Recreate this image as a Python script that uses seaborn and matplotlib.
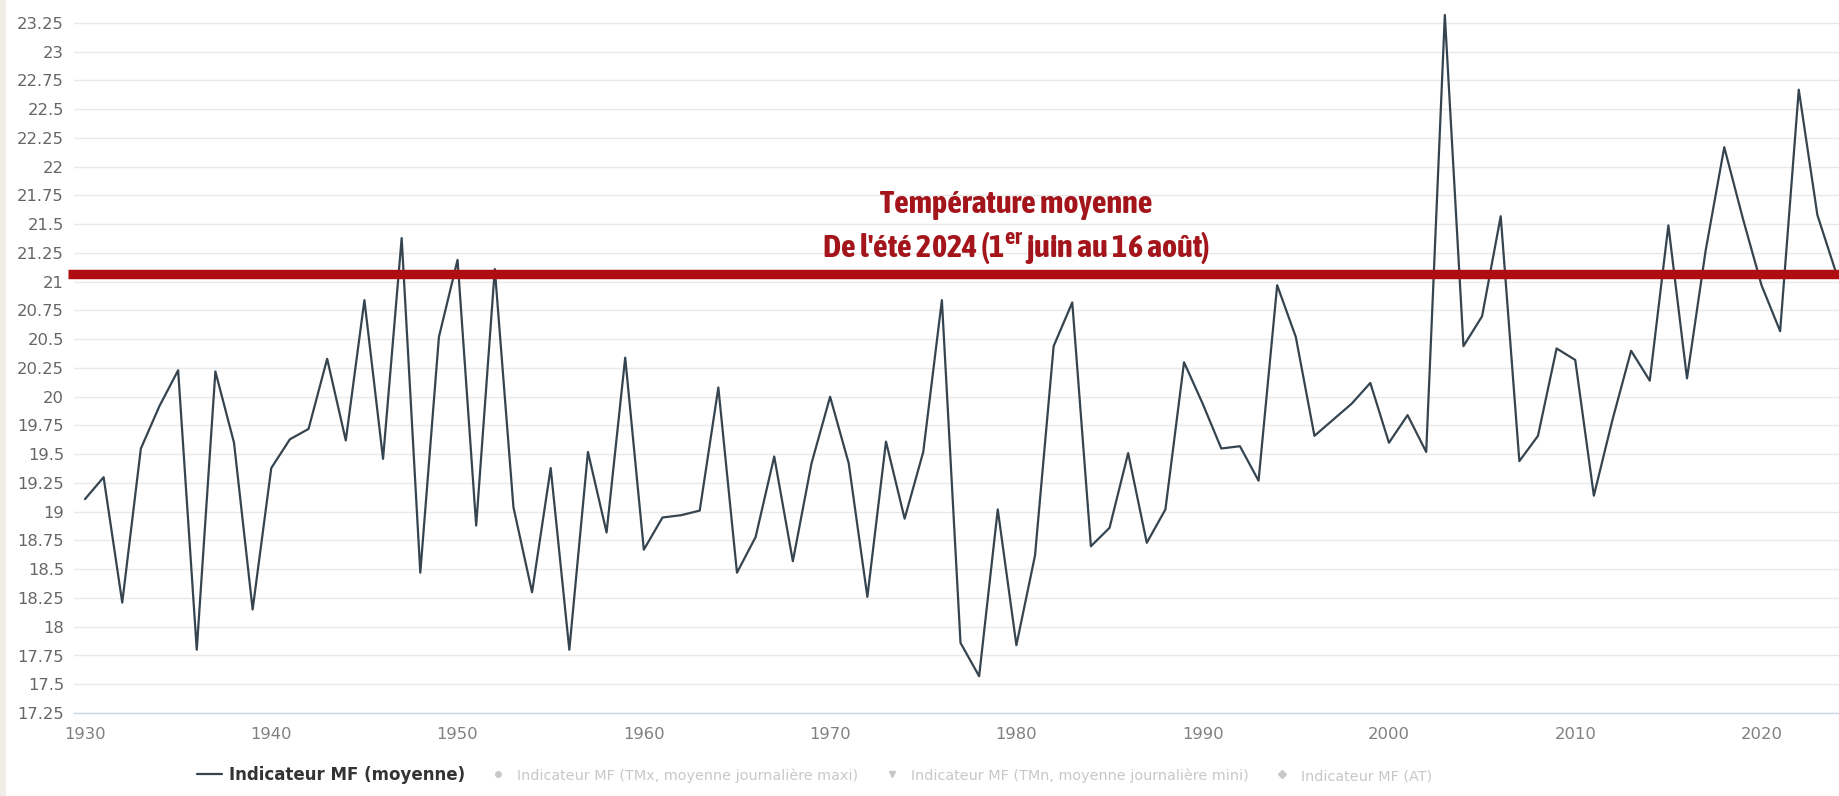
import numpy as np
import pandas as pd
import matplotlib.pyplot as plt
import seaborn as sns
from matplotlib import font_manager as fm
from matplotlib.lines import Line2D
from matplotlib.patches import Rectangle


# Data
years = list(range(1930, 2025))
temp_moyenne = [
    19.11, 19.30, 18.21, 19.55, 19.92, 20.23, 17.80, 20.22, 19.60, 18.15,  # 1930s
    19.38, 19.63, 19.72, 20.33, 19.62, 20.84, 19.46, 21.38, 18.47, 20.52,  # 1940s
    21.19, 18.88, 21.11, 19.04, 18.30, 19.38, 17.80, 19.52, 18.82, 20.34,  # 1950s
    18.67, 18.95, 18.97, 19.01, 20.08, 18.47, 18.78, 19.48, 18.57, 19.42,  # 1960s
    20.00, 19.42, 18.26, 19.61, 18.94, 19.52, 20.84, 17.86, 17.57, 19.02,  # 1970s
    17.84, 18.62, 20.44, 20.82, 18.70, 18.86, 19.51, 18.73, 19.02, 20.30,  # 1980s
    19.94, 19.55, 19.57, 19.27, 20.97, 20.52, 19.66, 19.80, 19.94, 20.12,  # 1990s
    19.60, 19.84, 19.52, 23.32, 20.44, 20.70, 21.57, 19.44, 19.66, 20.42,  # 2000s
    20.32, 19.14, 19.80, 20.40, 20.14, 21.49, 20.16, 21.27, 22.17, 21.55,  # 2010s
    20.97, 20.57, 22.67, 21.58, 21.08,                                     # 2020s
]
summer_2024 = 21.065

y_ticks = [17.25, 17.5, 17.75, 18, 18.25, 18.5, 18.75, 19, 19.25, 19.5, 19.75,
           20, 20.25, 20.5, 20.75, 21, 21.25, 21.5, 21.75, 22, 22.25, 22.5,
           22.75, 23, 23.25]
x_ticks = [1930, 1940, 1950, 1960, 1970, 1980, 1990, 2000, 2010, 2020]

legend_labels = [
    "Indicateur MF (moyenne)",
    "Indicateur MF (TMx, moyenne journalière maxi)",
    "Indicateur MF (TMn, moyenne journalière mini)",
    "Indicateur MF (AT)",
]
note_lines = ["Température moyenne", "De l'été 2024 (1$^{\\mathregular{er}}$ juin au 16 août)"]

LINE = "#35444f"
RED = "#b00d12"
NOTE = "#a3151b"
HIDDEN = "#c8c8c8"


def pick_condensed_bold():
    # look for a narrow/condensed bold face among installed fonts
    order = {"extra-condensed": 0, "ultra-condensed": 1, "condensed": 2, "semi-condensed": 3}
    found = []
    for f in fm.fontManager.ttflist:
        w = f.weight if isinstance(f.weight, int) else fm.weight_dict.get(f.weight, 400)
        if f.stretch in order and w >= 600 and f.style == "normal":
            found.append((order[f.stretch], abs(w - 700), f.name, f.fname))
    if not found:
        return fm.FontProperties(family="DejaVu Sans", weight="bold")
    found.sort()
    return fm.FontProperties(fname=found[0][3])


sns.set_style("white")
plt.rcParams["font.family"] = ["DejaVu Sans"]

W, H = 1839, 796
fig = plt.figure(figsize=(W / 100, H / 100), dpi=100)
fig.patches.append(Rectangle((0, 0), 6 / W, 1, transform=fig.transFigure,
                             facecolor="#efede6", edgecolor="none", zorder=0))

ax = fig.add_axes([74 / W, 1 - 713 / H, 1 - 74 / W, 713 / H])
df = pd.DataFrame({"year": years, "temp": temp_moyenne})
sns.lineplot(data=df, x="year", y="temp", ax=ax, color=LINE, linewidth=1.6)

ax.set_xlim(1929.41, 2024.16)
ax.set_ylim(17.25, 17.25 + 713 / 115)
ax.set_yticks(y_ticks)
ax.set_yticklabels([f"{v:g}" for v in y_ticks])
ax.set_xticks(x_ticks)
ax.set_xlabel("")
ax.set_ylabel("")

ax.grid(axis="y", color="#e9e9e9", linewidth=1)
ax.set_axisbelow(True)
for side in ["top", "right", "left"]:
    ax.spines[side].set_visible(False)
ax.spines["bottom"].set_color("#ccd6eb")
ax.spines["bottom"].set_linewidth(1)
ax.tick_params(axis="y", length=0, pad=7.2, labelsize=11.8, labelcolor="#666666")
ax.tick_params(axis="x", length=9, width=1, color="#ccd6eb", pad=1,
               labelsize=11.8, labelcolor="#808080")

# summer 2024 reference line and its note
ax.axhline(summer_2024, xmin=-6 / 1765, xmax=1, color=RED, linewidth=6.8,
           clip_on=False, solid_capstyle="butt")

note_prop = pick_condensed_bold()
note_prop.set_size(21)
t1 = ax.text(0.5337, 0.7125, note_lines[0], transform=ax.transAxes, ha="center",
             va="center", color=NOTE, fontproperties=note_prop)
t2 = ax.text(0.5337, 0.6520, note_lines[1], transform=ax.transAxes, ha="center",
             va="center", color=NOTE, fontproperties=note_prop)

# fit the note to the width it has in the reference (about 388 px for line 2)
renderer = fig.canvas.get_renderer()
w2 = t2.get_window_extent(renderer).width
size = float(np.clip(21 * 388 / w2, 14, 26))
t1.set_fontsize(size)
t2.set_fontsize(size)

handles = [
    Line2D([], [], color=LINE, linewidth=1.6),
    Line2D([], [], color=HIDDEN, marker="o", markersize=4, linestyle="none"),
    Line2D([], [], color=HIDDEN, marker="v", markersize=5, linestyle="none"),
    Line2D([], [], color=HIDDEN, marker="D", markersize=4, linestyle="none"),
]
leg = fig.legend(handles, legend_labels, loc="center left",
                 bbox_to_anchor=(197 / W, 21 / H), ncol=4, frameon=False,
                 handlelength=1.5, handletextpad=0.4, columnspacing=1.25,
                 borderpad=0, borderaxespad=0,
                 prop={"size": 12, "weight": "bold"})
texts = leg.get_texts()
texts[0].set_color("#333333")
for t in texts[1:]:
    t.set_color(HIDDEN)
    t.set_fontweight("normal")
    t.set_fontsize(10.4)

fig.savefig("out.png", dpi=100)
